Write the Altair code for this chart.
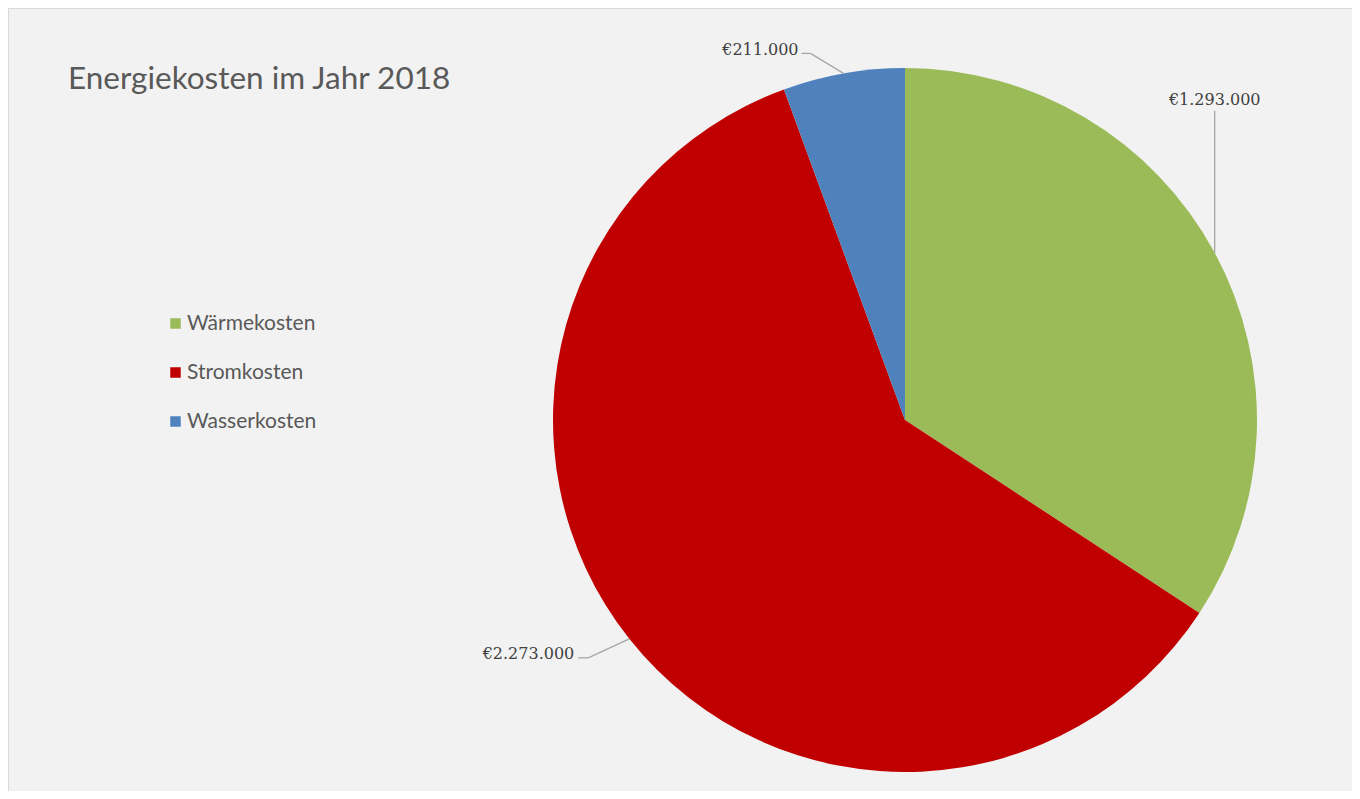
import math
import altair as alt
import pandas as pd

# ---- data ----
categories = ["Wärmekosten", "Stromkosten", "Wasserkosten"]
values = [1293000, 2273000, 211000]
colors = ["#9BBB59", "#C00000", "#4F81BD"]
title_text = "Energiekosten im Jahr 2018"

# ---- layout ----
W, H = 1344, 783
CX, CY, R = 897, 412, 352
# leader-line layout per slice: (elbow dx, elbow dy from edge point, end dx from elbow, text dx, text dy, align)
leader = {
    "Wärmekosten": (0, -142, 0, 0, -3, "center"),
    "Stromkosten": (-41, 19, -10, -4, -4, "right"),
    "Wasserkosten": (-33, -20, -9, -3, -3, "right"),
}

def fmt(v):
    return "€" + f"{v:,}".replace(",", ".")

total = sum(values)
rows = []
seg = []
cum = 0
for i, (c, v) in enumerate(zip(categories, values)):
    mid = (cum + v / 2) / total * 2 * math.pi
    cum += v
    ex = CX + R * math.sin(mid)
    ey = CY - R * math.cos(mid)
    edx, edy, endx, tdx, tdy, al = leader[c]
    bx, by = ex + edx, ey + edy
    fx = bx + endx
    seg.append({"x": ex, "y": ey, "x2": bx, "y2": by})
    if endx != 0:
        seg.append({"x": bx, "y": by, "x2": fx, "y2": by})
    rows.append({"cat": c, "tx": fx + tdx, "ty": by + tdy, "label": fmt(v), "align": al})

df = pd.DataFrame({"cat": categories, "value": values, "idx": list(range(len(categories)))})
seg_df = pd.DataFrame(seg)
lab_df = pd.DataFrame(rows)

xs = alt.Scale(domain=[0, W], range=[0, W], nice=False, zero=False)
ys = alt.Scale(domain=[0, H], range=[0, H], nice=False, zero=False)

pie = alt.Chart(df).mark_arc(outerRadius=R, stroke=None).encode(
    theta=alt.Theta("value:Q", stack=True),
    order=alt.Order("idx:Q"),
    color=alt.Color(
        "cat:N",
        scale=alt.Scale(domain=categories, range=colors),
        sort=categories,
        legend=alt.Legend(
            title=None,
            orient="none",
            legendX=157,
            legendY=305,
            symbolType="square",
            symbolSize=110,
            symbolStrokeWidth=0,
            labelFont="Lato",
            labelFontSize=21,
            labelColor="#595959",
            labelLimit=400,
            rowPadding=27,
            labelOffset=1,
        ),
    ),
    x=alt.value(CX),
    y=alt.value(CY),
)

rules = alt.Chart(seg_df).mark_rule(color="#A6A6A6", strokeWidth=1.3).encode(
    x=alt.X("x:Q", scale=xs, axis=None),
    y=alt.Y("y:Q", scale=ys, axis=None),
    x2="x2:Q",
    y2="y2:Q",
)

lab_center = alt.Chart(lab_df).transform_filter("datum.align == 'center'").mark_text(
    align="center", baseline="bottom", font="DejaVu Serif", fontSize=16, color="#404040"
).encode(x=alt.X("tx:Q", scale=xs, axis=None), y=alt.Y("ty:Q", scale=ys, axis=None), text="label:N")

lab_right = alt.Chart(lab_df).transform_filter("datum.align == 'right'").mark_text(
    align="right", baseline="middle", font="DejaVu Serif", fontSize=16, color="#404040"
).encode(x=alt.X("tx:Q", scale=xs, axis=None), y=alt.Y("ty:Q", scale=ys, axis=None), text="label:N")

title = alt.Chart(pd.DataFrame({"t": [title_text]})).mark_text(
    align="left", baseline="alphabetic", font="Lato", fontSize=31.5, color="#595959"
).encode(x=alt.value(60), y=alt.value(81), text="t:N")

chart = alt.layer(pie, rules, lab_center, lab_right, title).properties(
    width=W, height=H, padding=0, autosize=alt.AutoSizeParams(type="none"),
    background="#F2F2F2",
).configure_view(stroke="#D9D9D9", strokeWidth=1, fill="#F2F2F2")

chart.save("out.html", embed_options={"renderer": "svg", "actions": False})
